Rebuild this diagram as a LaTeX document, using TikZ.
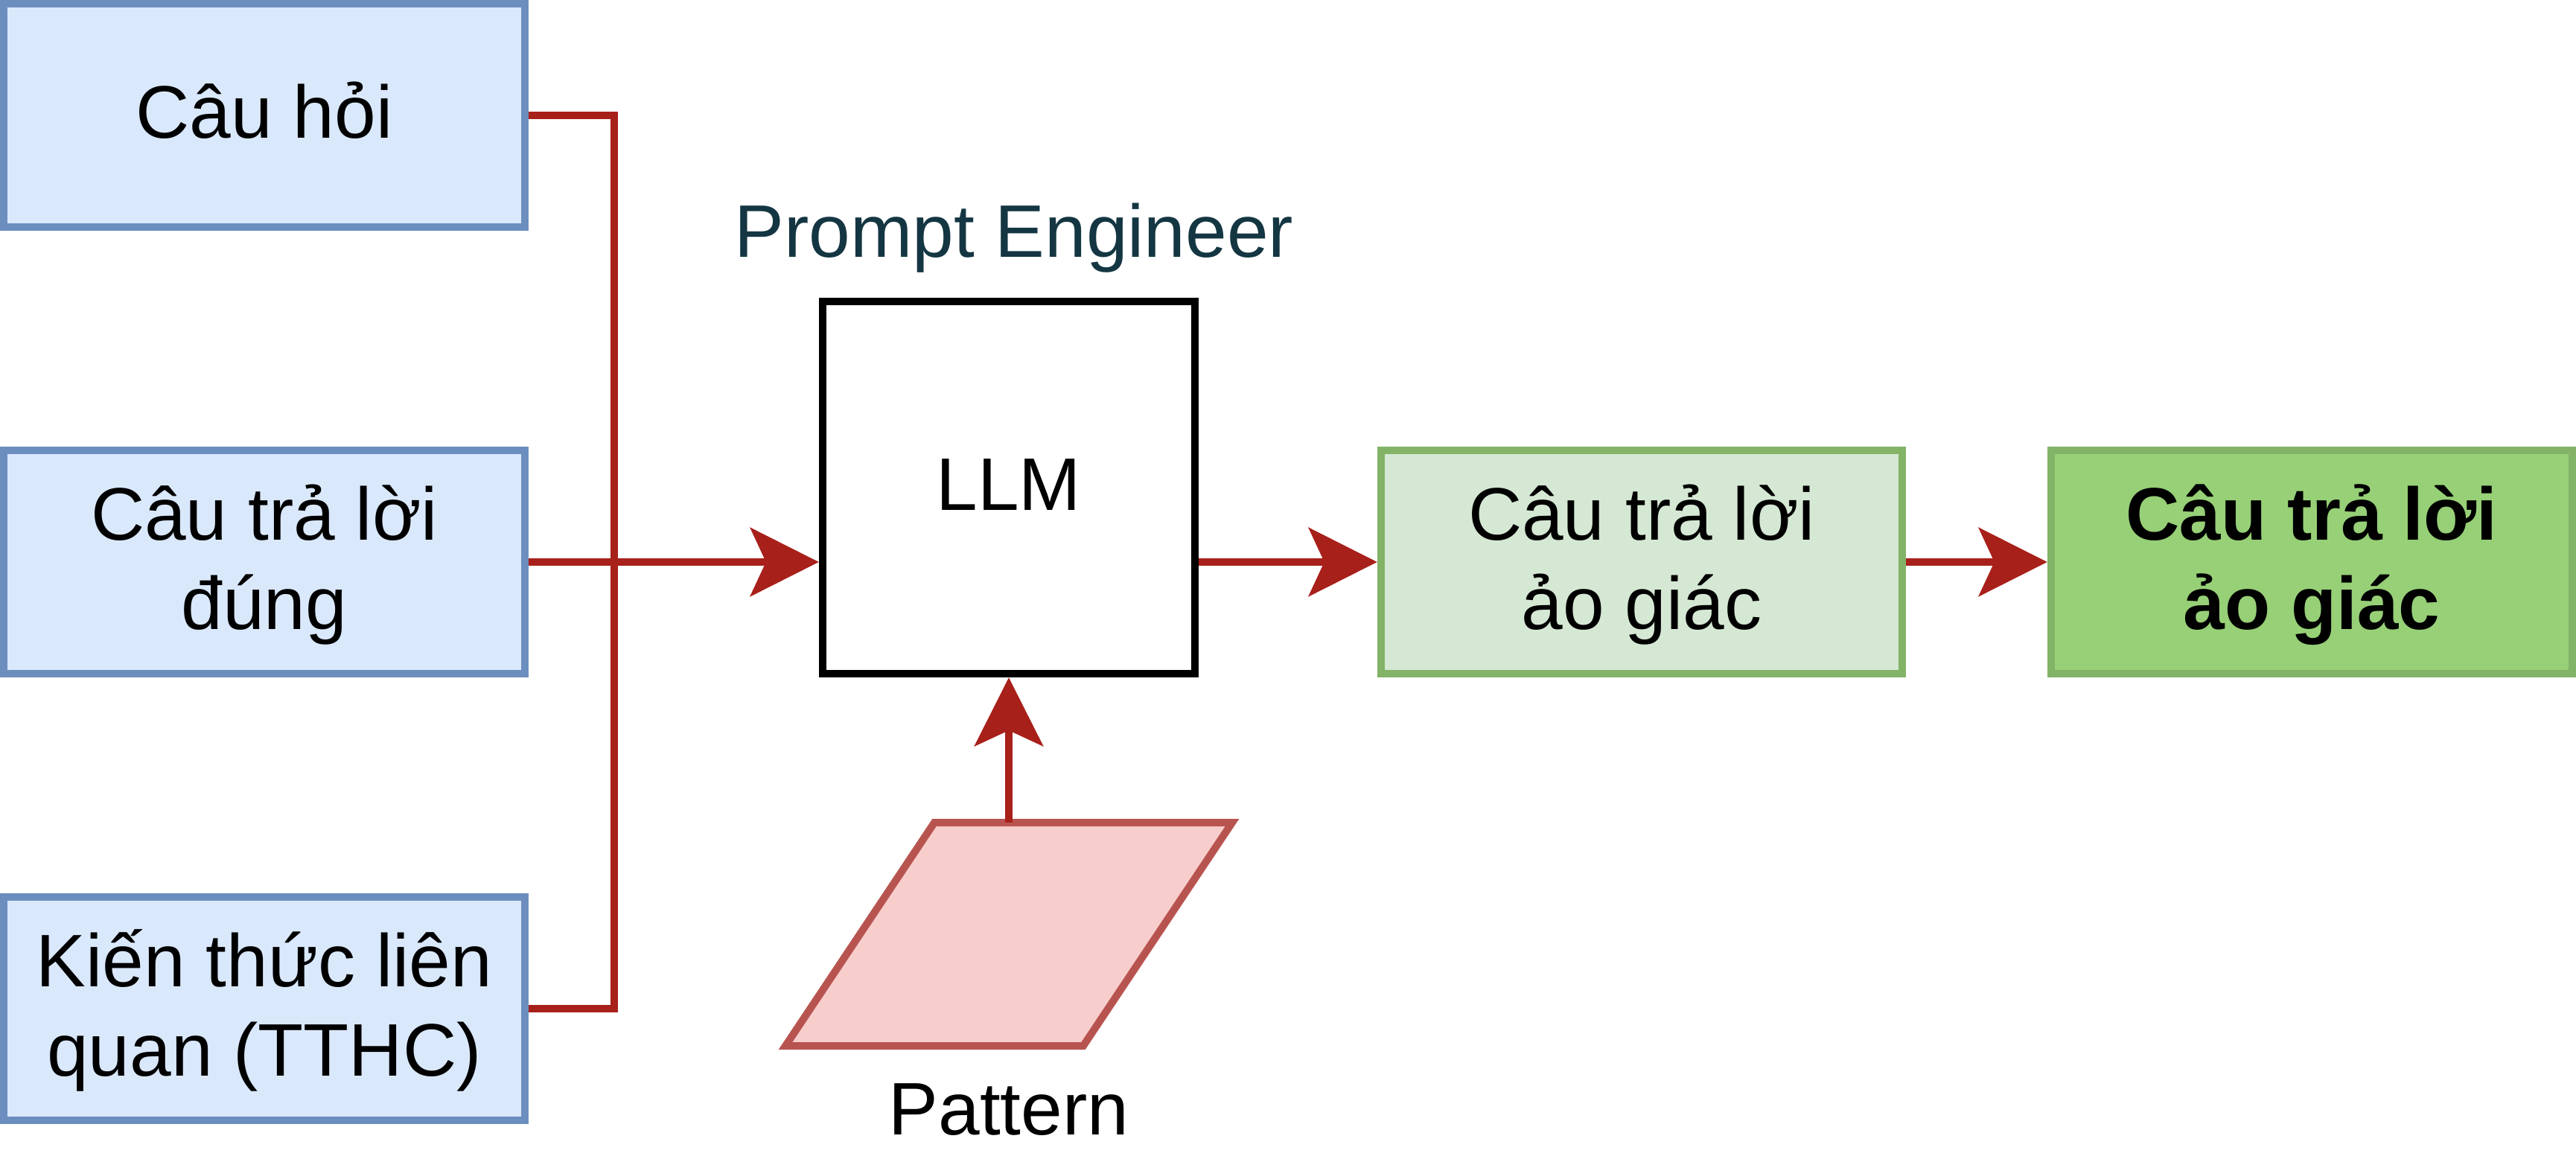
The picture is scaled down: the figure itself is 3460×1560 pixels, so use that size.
\documentclass[tikz,border=0pt]{standalone}
\usepackage{fontspec}
\setmainfont{Liberation Sans}
\usetikzlibrary{arrows.meta}
\definecolor{bfill}{HTML}{DAE8FC}
\definecolor{bstroke}{HTML}{6C8EBF}
\definecolor{gfill}{HTML}{D5E8D4}
\definecolor{gstroke}{HTML}{82B366}
\definecolor{gdark}{HTML}{97D077}
\definecolor{pfill}{HTML}{F8CECC}
\definecolor{pstroke}{HTML}{B85450}
\definecolor{connred}{HTML}{A8201A}
\definecolor{peblue}{HTML}{143642}
\newcommand\lnstrut{\rule[-0.3em]{0pt}{1.2em}}
\begin{document}
\begin{tikzpicture}[x=0.01cm,y=-0.01cm,
  every node/.style={font=\fontsize{28.45pt}{34.14pt}\selectfont, inner sep=0pt},
  box/.style={draw, line width=2.845pt, rectangle, align=center},
  bluebox/.style={box, draw=bstroke, fill=bfill, minimum width=7cm, minimum height=3cm},
  greenbox/.style={box, draw=gstroke, fill=gfill, minimum width=7cm, minimum height=3cm},
  darkbox/.style={box, draw=gstroke, fill=gdark, minimum width=7cm, minimum height=3cm, font=\fontsize{28.45pt}{34.14pt}\selectfont\bfseries},
  llmbox/.style={box, draw=black, fill=white, minimum width=5cm, minimum height=5cm},
  conn/.style={draw=connred, line width=2.845pt},
  arr/.style={conn, -{Stealth[length=0.92cm,width=0.92cm,inset=0.21cm]}}
]
\useasboundingbox (0,0) rectangle (3460,1560);

\node[bluebox] (q1) at (355,155) {\lnstrut Câu hỏi};
\node[bluebox] (q2) at (355,755) {\lnstrut Câu trả lời\\\lnstrut đúng};
\node[bluebox] (q3) at (355,1355) {\lnstrut Kiến thức liên\\\lnstrut quan (TTHC)};

\node[llmbox] (llm) at (1355,655) {\lnstrut LLM};
\node[anchor=base, text=peblue] (pe) at (1362,345) {Prompt Engineer};

\node[greenbox] (h1) at (2205,755) {\lnstrut Câu trả lời\\\lnstrut ảo giác};
\node[darkbox] (h2) at (3105,755) {\lnstrut Câu trả lời\\\lnstrut ảo giác};

\draw[line width=2.845pt, draw=pstroke, fill=pfill]
  (1255,1105) -- (1655,1105) -- (1455,1405) -- (1055,1405) -- cycle;
\coordinate (pat) at (1355,1105);
\node[anchor=base] (patlabel) at (1355,1524) {Pattern};

\coordinate (j) at (825,755);
\draw[conn] (q1.east) -| (j);
\draw[conn] (q3.east) -| (j);
\draw[arr] (q2.east) -- (q2.east -| llm.west);
\draw[arr] (llm.east |- h1.west) -- (h1.west);
\draw[arr] (h1.east) -- (h2.west);
\draw[arr] (pat) -- (llm.south);
\end{tikzpicture}
\end{document}
